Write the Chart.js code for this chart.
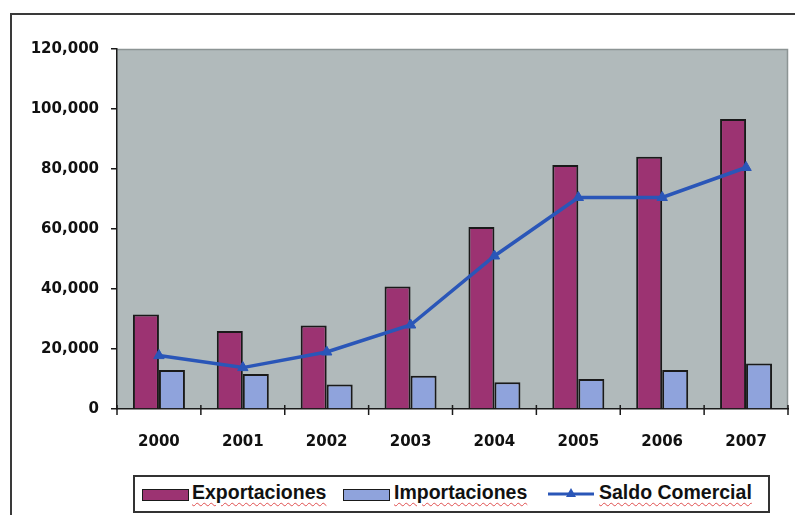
<!DOCTYPE html>
<html>
<head>
<meta charset="utf-8">
<script src="https://cdn.jsdelivr.net/npm/chart.js@4.4.1/dist/chart.umd.min.js"></script>
<style>
  html, body { margin: 0; padding: 0; background: #ffffff; }
  #wrap { position: relative; width: 795px; height: 515px; overflow: hidden; background: #fff; }
  #frame { position: absolute; left: 10px; top: 13px; width: 900px; height: 600px;
           border-left: 2px solid #3a3a3a; border-top: 2px solid #3a3a3a; }
  canvas { position: absolute; left: 0; top: 0; }
  #legend { position: absolute; left: 133px; top: 475px; width: 633px; height: 34px;
            border: 2px solid #333; background: #fff; }
  .item { position: absolute; top: 0; height: 34px; }
  .sw { position: absolute; top: 12px; width: 45px; height: 10px; border: 1.5px solid #1a1a1a; }
  .txt { position: absolute; top: 4px; white-space: nowrap; font-family: "Liberation Sans", Arial, sans-serif;
         font-weight: bold; font-size: 19.5px; color: #111;
         text-decoration: underline wavy #e05050; text-decoration-thickness: 1px; text-underline-offset: 3px; }
</style>
</head>
<body>
<div id="wrap">
  <div id="frame"></div>
  <canvas id="c" width="795" height="515"></canvas>
  <div id="legend"></div>
</div>
<script>
const years = ["2000", "2001", "2002", "2003", "2004", "2005", "2006", "2007"];
const exportaciones = [31500, 26000, 27800, 40800, 60700, 81300, 84100, 96700];
const importaciones = [13000, 11700, 8200, 11100, 8900, 10000, 13000, 15200];
const saldoComercial = [17800, 13800, 19000, 28000, 51000, 70500, 70500, 80500];
const seriesNames = ["Exportaciones", "Importaciones", "Saldo Comercial"];
const yMin = 0, yMax = 120000, yStep = 20000;

const COL_EXP = "#9c3372";
const COL_IMP = "#8fa3dc";
const COL_LINE = "#2a56b8";
const PLOT_BG = "#b1babb";

const plotBg = {
  id: "plotBg",
  beforeDraw(chart) {
    const a = chart.chartArea, ctx = chart.ctx;
    ctx.save();
    ctx.fillStyle = PLOT_BG;
    ctx.fillRect(a.left, a.top, a.right - a.left, a.bottom - a.top);
    ctx.strokeStyle = "#8c9494";
    ctx.lineWidth = 1.5;
    ctx.beginPath();
    ctx.moveTo(a.left, a.top + 0.5);
    ctx.lineTo(a.right - 0.5, a.top + 0.5);
    ctx.lineTo(a.right - 0.5, a.bottom);
    ctx.stroke();
    ctx.restore();
  }
};

const crossTicks = {
  id: "crossTicks",
  afterDatasetsDraw(chart) {
    const xs = chart.scales.x, a = chart.chartArea, ctx = chart.ctx;
    ctx.save();
    ctx.strokeStyle = "#1a1a1a";
    ctx.lineWidth = 1.5;
    for (let i = 0; i <= years.length; i++) {
      const x = xs.left + (xs.right - xs.left) * i / years.length;
      ctx.beginPath();
      ctx.moveTo(x, a.bottom - 4);
      ctx.lineTo(x, a.bottom + 6);
      ctx.stroke();
    }
    ctx.restore();
  }
};

new Chart(document.getElementById("c"), {
  data: {
    labels: years,
    datasets: [
      { type: "line", label: seriesNames[2], data: saldoComercial, borderColor: COL_LINE,
        backgroundColor: COL_LINE, borderWidth: 3.5, pointStyle: "triangle", pointRadius: 6,
        pointBorderWidth: 1, tension: 0, order: 0 },
      { type: "bar", label: seriesNames[0], data: exportaciones, backgroundColor: COL_EXP,
        borderColor: "#1a1a1a", borderWidth: 2, categoryPercentage: 0.62, barPercentage: 1, order: 1 },
      { type: "bar", label: seriesNames[1], data: importaciones, backgroundColor: COL_IMP,
        borderColor: "#1a1a1a", borderWidth: 2, categoryPercentage: 0.62, barPercentage: 1, order: 1 }
    ]
  },
  options: {
    responsive: false,
    animation: false,
    devicePixelRatio: 1,
    layout: { padding: { top: 49, right: 7, bottom: 0, left: 0 } },
    plugins: { legend: { display: false }, tooltip: { enabled: false } },
    scales: {
      x: {
        grid: { display: false, offset: true },
        border: { display: true, color: "#1a1a1a", width: 1.5 },
        ticks: { padding: 16, color: "#111", font: { family: "DejaVu Sans", weight: "bold", size: 15 } },
        afterFit(s) { s.height = 106; }
      },
      y: {
        min: yMin, max: yMax,
        grid: { drawOnChartArea: false, drawTicks: true, tickLength: 6, color: "#1a1a1a", lineWidth: 1.5 },
        border: { display: true, color: "#1a1a1a", width: 1.5 },
        ticks: { stepSize: yStep, padding: 12, color: "#111",
                 font: { family: "DejaVu Sans", weight: "bold", size: 15 },
                 callback: v => v.toLocaleString("en-US") },
        afterFit(s) { s.width = 117; }
      }
    }
  },
  plugins: [plotBg, crossTicks]
});

// HTML legend (real text)
const legend = document.getElementById("legend");
const items = [
  { name: seriesNames[0], kind: "box", color: COL_EXP, x: 7, tx: 57 },
  { name: seriesNames[1], kind: "box", color: COL_IMP, x: 208, tx: 259 },
  { name: seriesNames[2], kind: "line", color: COL_LINE, x: 412, tx: 464 }
];
items.forEach(it => {
  const d = document.createElement("div");
  d.className = "item";
  d.style.left = "0px";
  if (it.kind === "box") {
    const s = document.createElement("div");
    s.className = "sw";
    s.style.left = it.x + "px";
    s.style.background = it.color;
    d.appendChild(s);
  } else {
    const svgNS = "http://www.w3.org/2000/svg";
    const svg = document.createElementNS(svgNS, "svg");
    svg.setAttribute("width", "48"); svg.setAttribute("height", "20");
    svg.style.position = "absolute"; svg.style.left = it.x + "px"; svg.style.top = "7px";
    const ln = document.createElementNS(svgNS, "line");
    ln.setAttribute("x1", "1"); ln.setAttribute("x2", "47"); ln.setAttribute("y1", "10"); ln.setAttribute("y2", "10");
    ln.setAttribute("stroke", it.color); ln.setAttribute("stroke-width", "3");
    const tri = document.createElementNS(svgNS, "polygon");
    tri.setAttribute("points", "24,4 29,13 19,13");
    tri.setAttribute("fill", it.color);
    svg.appendChild(ln); svg.appendChild(tri);
    d.appendChild(svg);
  }
  const t = document.createElement("span");
  t.className = "txt";
  t.style.left = it.tx + "px";
  t.textContent = it.name;
  d.appendChild(t);
  legend.appendChild(d);
});
</script>
</body>
</html>
